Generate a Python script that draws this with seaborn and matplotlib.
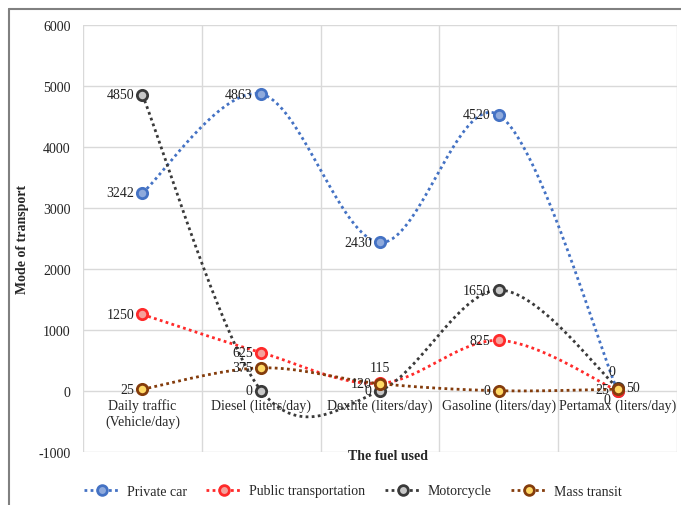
import numpy as np
import pandas as pd
import seaborn as sns
import matplotlib.pyplot as plt
from matplotlib.lines import Line2D

# Values
categories = ["Daily traffic\n(Vehicle/day)", "Diesel (liters/day)", "Dexlite (liters/day)",
              "Gasoline (liters/day)", "Pertamax (liters/day)"]
series_names = ["Private car", "Public transportation", "Motorcycle", "Mass transit"]
private_car = [3242, 4863, 2430, 4520, 0]
public_transport = [1250, 625, 120, 825, 0]
motorcycle = [4850, 0, 0, 1650, 50]
mass_transit = [25, 375, 115, 0, 25]

line_colors = ["#4472C4", "#FF2A2A", "#3A3A3A", "#843C0C"]
fill_colors = ["#8FAADC", "#F4A29C", "#C8C8C8", "#FFD966"]

# label placement per point: (dx, dy in points, ha, va)
L = (-6, 0, "right", "center")
R = (6, 0, "left", "center")
U = (0, 7, "center", "bottom")
label_pos = [
    [L, L, L, L, (-4, 9, "center", "bottom")],
    [L, L, L, L, (-8, -2, "center", "top")],
    [L, L, L, L, R],
    [L, L, U, L, L],
]

sns.set_style("white")
plt.rcParams["font.family"] = ["Liberation Serif", "DejaVu Serif"]
plt.rcParams["axes.unicode_minus"] = False


def smooth(y, n=40):
    # Excel style smoothed line: cubic bezier with catmull-rom control points
    y = np.asarray(y, dtype=float)
    x = np.arange(len(y), dtype=float)
    xs, ys = [], []
    t = np.linspace(0, 1, n)
    for i in range(len(y) - 1):
        a, b = max(i - 1, 0), min(i + 2, len(y) - 1)
        cx1 = x[i] + (x[i + 1] - x[a]) / 6
        cy1 = y[i] + (y[i + 1] - y[a]) / 6
        cx2 = x[i + 1] - (x[b] - x[i]) / 6
        cy2 = y[i + 1] - (y[b] - y[i]) / 6
        bx = (1 - t) ** 3 * x[i] + 3 * (1 - t) ** 2 * t * cx1 + 3 * (1 - t) * t ** 2 * cx2 + t ** 3 * x[i + 1]
        by = (1 - t) ** 3 * y[i] + 3 * (1 - t) ** 2 * t * cy1 + 3 * (1 - t) * t ** 2 * cy2 + t ** 3 * y[i + 1]
        xs.extend(bx)
        ys.extend(by)
    return np.array(xs), np.array(ys)


fig = plt.figure(figsize=(6.81, 5.06), dpi=100)
ax = fig.add_axes([0.1219, 0.1053, 0.8722, 0.8439])

all_series = [private_car, public_transport, motorcycle, mass_transit]
for k, (name, vals) in enumerate(zip(series_names, all_series)):
    sx, sy = smooth(vals)
    curve = pd.DataFrame({"x": sx, "y": sy})
    sns.lineplot(data=curve, x="x", y="y", sort=False, estimator=None, ax=ax,
                 color=line_colors[k], lw=2, linestyle=(0, (1, 1.2)), zorder=2)
    pts = pd.DataFrame({"x": np.arange(len(vals)), "y": vals})
    sns.scatterplot(data=pts, x="x", y="y", ax=ax, color=fill_colors[k],
                    edgecolor=line_colors[k], linewidth=2, s=55, zorder=3)
    for i, v in enumerate(vals):
        dx, dy, ha, va = label_pos[k][i]
        ax.annotate(str(v), (i, v), xytext=(dx, dy), textcoords="offset points",
                    ha=ha, va=va, fontsize=10, color="#222222", zorder=4)

ax.set_xlim(-0.5, 4.5)
ax.set_ylim(-1000, 6000)
ax.set_yticks(range(-1000, 6001, 1000))
ax.set_xticks(range(len(categories)))
ax.set_xticklabels(categories, fontsize=10, color="#222222", linespacing=1.2)
ax.set_xticks(np.arange(-0.5, 4.6, 1), minor=True)
ax.tick_params(axis="y", labelsize=10, length=0, pad=9, labelcolor="#222222")
ax.tick_params(axis="x", which="both", length=0, pad=5.5)
ax.spines["bottom"].set_position(("data", 0))
for s in ax.spines.values():
    s.set_visible(False)
ax.grid(axis="y", which="major", color="#D9D9D9", lw=1)
ax.grid(axis="x", which="minor", color="#D9D9D9", lw=1)
ax.set_axisbelow(True)
ax.set_xlabel("")
ax.set_ylabel("")

fig.text(388 / 681, 1 - 457 / 506, "The fuel used", ha="center", va="center",
         fontsize=10, fontweight="bold")
fig.text(23 / 681, 1 - 239 / 506, "Mode of transport", ha="center", va="center",
         rotation=90, fontsize=10, fontweight="bold")

handles = [Line2D([0], [0], color=line_colors[k], lw=2, linestyle=(0, (1, 1.2)),
                  marker="o", markersize=7, markerfacecolor=fill_colors[k],
                  markeredgecolor=line_colors[k], markeredgewidth=2)
           for k in range(4)]
fig.legend(handles, series_names, loc="center", bbox_to_anchor=(0.518, 1 - 492 / 506),
           ncol=4, frameon=False, fontsize=10, handlelength=2.6, columnspacing=1.4,
           handletextpad=0.5)

# outer frame (left and top edges visible in the original)
fig.add_artist(Line2D([9 / 681, 9 / 681], [0, 1 - 10 / 506], color="#808080", lw=1.5,
                      transform=fig.transFigure))
fig.add_artist(Line2D([9 / 681, 1], [1 - 10 / 506, 1 - 10 / 506], color="#808080", lw=1.5,
                      transform=fig.transFigure))

fig.savefig("out.png", dpi=100)
